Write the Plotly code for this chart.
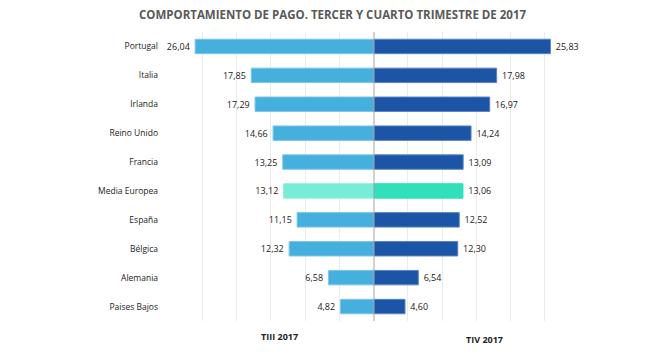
import plotly.graph_objects as go

categories = ["Portugal", "Italia", "Irlanda", "Reino Unido", "Francia",
              "Media Europea", "España", "Bélgica", "Alemania", "Paises Bajos"]
t3_2017 = [26.04, 17.85, 17.29, 14.66, 13.25, 13.12, 11.15, 12.32, 6.58, 4.82]
t4_2017 = [25.83, 17.98, 16.97, 14.24, 13.09, 13.06, 12.52, 12.30, 6.54, 4.60]
x_ticks = [0, 5, 10, 15, 20, 25, 30]

def fmt(v):
    return f"{v:.2f}".replace(".", ",")

left_colors = ["#77EDD8" if c == "Media Europea" else "#45AFDE" for c in categories]
left_lines = ["#8FF0DF" if c == "Media Europea" else "#7CC6EA" for c in categories]
right_colors = ["#2FE0BA" if c == "Media Europea" else "#1C54A6" for c in categories]
right_lines = ["#2FE0BA" if c == "Media Europea" else "#5A86C4" for c in categories]

font = "Open Sans, DejaVu Sans, sans-serif"
NB = "\u00a0"

# page body has an 8px margin; work in screen coordinates and subtract it
OFF = 8
W, H = 669 - OFF, 355 - OFF
L, C, R = 168 - OFF, 373.5 - OFF, 579 - OFF
TOP, BOT = 31.5 - OFF, 321.5 - OFF
PH = BOT - TOP

def py(yscreen):
    return 1 - (yscreen - OFF - TOP) / PH

fig = go.Figure()
fig.add_trace(go.Bar(
    y=categories, x=t3_2017, orientation="h", xaxis="x", yaxis="y",
    marker=dict(color=left_colors, line=dict(color=left_lines, width=1)),
    text=[fmt(v) + NB for v in t3_2017], textposition="outside", cliponaxis=False,
    textfont=dict(size=9, color="#222222", family=font),
    width=0.5, showlegend=False, name="TIII 2017",
))
fig.add_trace(go.Bar(
    y=categories, x=t4_2017, orientation="h", xaxis="x2", yaxis="y",
    marker=dict(color=right_colors, line=dict(color=right_lines, width=1)),
    text=[NB + fmt(v) for v in t4_2017], textposition="outside", cliponaxis=False,
    textfont=dict(size=9, color="#222222", family=font),
    width=0.5, showlegend=False, name="TIV 2017",
))

fig.update_layout(
    width=W, height=H,
    margin=dict(l=0, r=0, t=TOP, b=H - BOT, autoexpand=False),
    paper_bgcolor="white", plot_bgcolor="white",
    font=dict(family=font, size=9, color="#222222"),
    title=dict(text="<b>COMPORTAMIENTO DE PAGO. TERCER Y CUARTO TRIMESTRE DE 2017</b>",
               x=(332.5 - OFF) / W, xanchor="center", y=1 - (14.5 - OFF) / H,
               yanchor="middle",
               font=dict(size=11.5, color="#595959", family=font)),
    xaxis=dict(domain=[L / W, C / W], range=[30, 0], tickvals=x_ticks,
               showticklabels=False, showgrid=True, gridcolor="#EBEBEB",
               gridwidth=1, zeroline=False, showline=False),
    xaxis2=dict(domain=[C / W, R / W], range=[0, 30], tickvals=x_ticks,
                showticklabels=False, showgrid=True, gridcolor="#EBEBEB",
                gridwidth=1, zeroline=False, showline=False, anchor="y"),
    yaxis=dict(autorange="reversed", position=L / W, anchor="free",
               showgrid=False, zeroline=False, showline=False,
               ticks="", ticklabelstandoff=10,
               tickfont=dict(size=8.5, color="#222222", family=font)),
)
fig.add_shape(type="line", xref="x2", yref="paper", x0=0, x1=0, y0=0, y1=1,
              line=dict(color="#A6A6A6", width=2))
fig.add_annotation(text="<b>TIII 2017</b>", xref="paper", yref="paper",
                   x=(279.5 - OFF) / W, y=py(337), showarrow=False,
                   font=dict(size=9, color="#222222", family=font),
                   xanchor="center", yanchor="middle")
fig.add_annotation(text="<b>TIV 2017</b>", xref="paper", yref="paper",
                   x=(484 - OFF) / W, y=py(340), showarrow=False,
                   font=dict(size=9, color="#222222", family=font),
                   xanchor="center", yanchor="middle")

fig.write_html("out.html")
